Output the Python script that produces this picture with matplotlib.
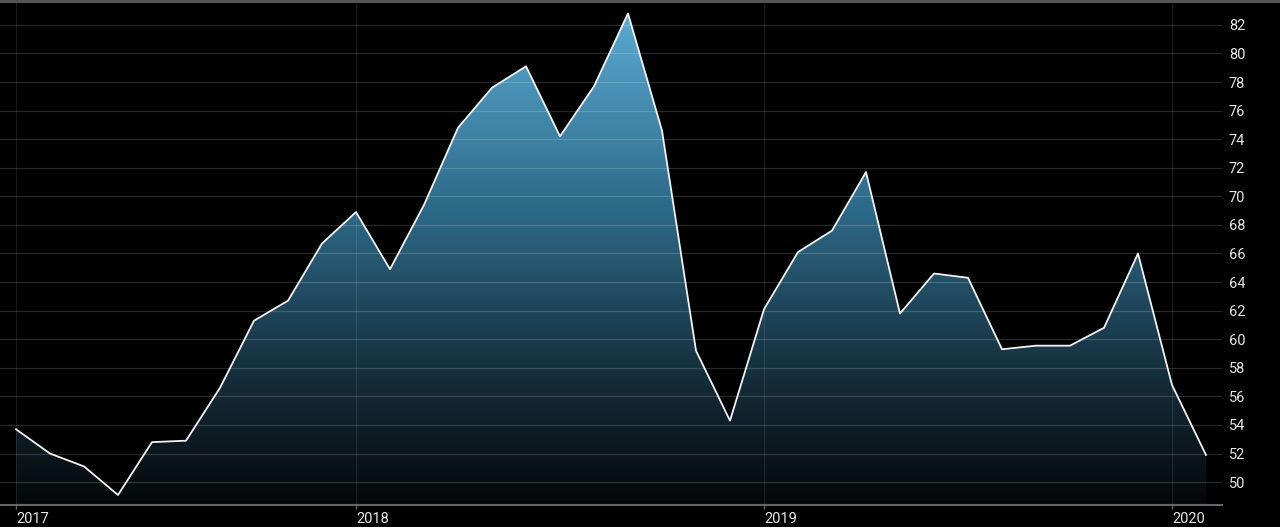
import numpy as np
import matplotlib
matplotlib.use("Agg")
import matplotlib.pyplot as plt
from matplotlib.colors import LinearSegmentedColormap
from matplotlib.lines import Line2D

plt.rcParams['font.family'] = ['Roboto', 'DejaVu Sans']

# monthly values, Mar 2017 .. Feb 2020
values = [53.7, 52.0, 51.1, 49.1, 52.8, 52.9, 56.6, 61.3, 62.7, 66.7,
          68.9, 64.9, 69.4, 74.8, 77.6, 79.1, 74.2, 77.7, 82.8, 74.6,
          59.2, 54.3, 62.1, 66.1, 67.6, 71.7, 61.8, 64.6, 64.3, 59.3,
          59.55, 59.55, 60.8, 66.0, 56.8, 51.9]
year_pos = [0, 10, 22, 34]
year_labels = ["2017", "2018", "2019", "2020"]
yticks = list(range(50, 83, 2))

x = np.arange(len(values))
y = np.array(values)

fig = plt.figure(figsize=(12.8, 5.27), dpi=100, facecolor="black")
ax = fig.add_axes([0, 22 / 527, 1222 / 1280, 503 / 527])
ax.set_facecolor("black")

ymin, ymax = 48.4, 83.6
pad = 16 / 34
ax.set_xlim(-pad, len(values) - 1 + pad)
ax.set_ylim(ymin, ymax)

# gradient fill clipped to the area under the line
cmap = LinearSegmentedColormap.from_list(
    "g", [(0, "#050708"), (0.25, "#142c39"), (0.6, "#2d6988"), (1, "#5aaad2")])
grad = np.linspace(0, 1, 256).reshape(-1, 1)
im = ax.imshow(grad, cmap=cmap, origin="lower", aspect="auto",
               extent=[-pad, len(values) - 1 + pad, ymin, max(values)],
               zorder=1)
poly = ax.fill_between(x, y, ymin, color="none", lw=0)
path = poly.get_paths()[0]
im.set_clip_path(path, transform=ax.transData)

for t in yticks:
    ax.axhline(t, color="white", lw=0.9, alpha=0.16, zorder=2)
for p in year_pos:
    ax.axvline(p, color="white", lw=0.8, alpha=0.1, zorder=2)

ax.plot(x, y, color="#f2f2f2", lw=1.3, zorder=3)

ax.yaxis.tick_right()
ax.set_yticks(yticks)
ax.set_yticklabels([str(t) for t in yticks])
ax.tick_params(axis="y", length=0, pad=5, labelsize=10.5, labelcolor="#e6e6e6")
for lab in ax.get_yticklabels():
    lab.set_horizontalalignment("left")

ax.set_xticks(year_pos)
ax.set_xticklabels(year_labels)
ax.tick_params(axis="x", length=3, width=1, color="#666666", pad=2,
               labelsize=10.5, labelcolor="#e6e6e6")
for lab in ax.get_xticklabels():
    lab.set_horizontalalignment("left")

for s in ["top", "left", "right"]:
    ax.spines[s].set_visible(False)
ax.spines["bottom"].set_color("#666666")
ax.spines["bottom"].set_linewidth(1.5)

fig.add_artist(Line2D([0, 1], [1 - 1 / 527, 1 - 1 / 527], color="#5a5a5a", lw=2,
                      transform=fig.transFigure))

fig.savefig("out.png", dpi=100, facecolor="black")
